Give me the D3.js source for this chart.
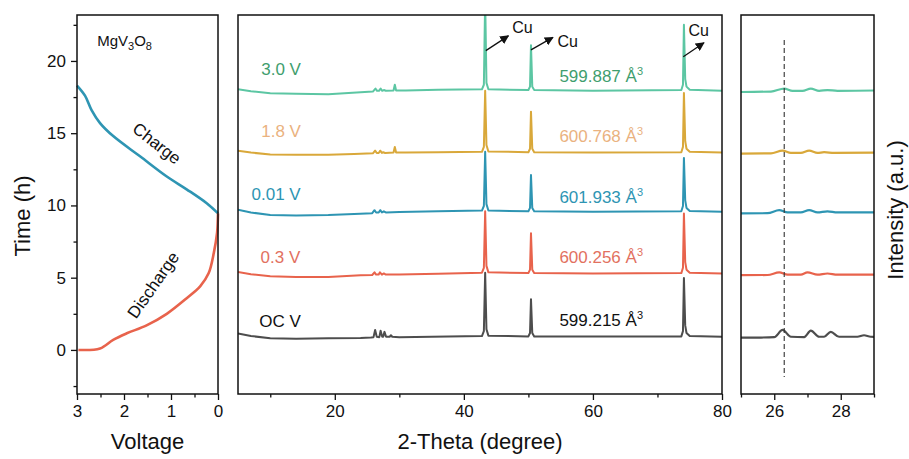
<!DOCTYPE html>
<html>
<head>
<meta charset="utf-8">
<script src="https://cdn.jsdelivr.net/npm/d3@7"></script>
<style>
  body { margin: 0; background: #fff; }
  svg { font-family: "Liberation Sans", Arial, sans-serif; }
</style>
</head>
<body>
<svg id="chart" width="909" height="459"></svg>
<script>
// ---- panel 1: voltage profile ----
var voltCharge = [3, 2.83, 2.69, 2.51, 2.23, 1.66, 1.09, 0.66, 0.24, 0];
var timeCharge = [18.3, 17.6, 16.6, 15.7, 14.8, 13.4, 12.0, 11.1, 10.15, 9.45];
var voltDischarge = [2.97, 2.51, 2.23, 1.94, 1.52, 1.09, 0.66, 0.38, 0.2, 0.09, 0.02, 0];
var timeDischarge = [0, 0.1, 0.7, 1.15, 1.7, 2.5, 3.6, 4.4, 5.3, 6.7, 8.1, 9.45];
var voltTicks = [3, 2, 1, 0];
var timeTicks = [0, 5, 10, 15, 20];

// ---- panel 2/3: XRD patterns (2-theta, intensity above the series offset) ----
var seriesNames = ["OC V", "0.3 V", "0.01 V", "1.8 V", "3.0 V"];
var seriesVolumes = ["599.215", "600.256", "601.933", "600.768", "599.887"];
var seriesOffsets = [15.1, 31.8, 48.1, 63.7, 80.1];
var lineColors = ["#4d4d4d", "#e8634c", "#2e95b3", "#d9a83a", "#5cc6a3"];
var textColors = ["#111111", "#e2715f", "#2e95b3", "#eab27f", "#3f9e6e"];

var xrdOCV = [[5,0.9],[7,0.2],[10,-0.4],[14,-0.5],[19,-0.4],[24,-0.3],[25.6,-0.2],[26.0,-0.1],[26.25,1.8],[26.5,0],[26.9,-0.1],[27.1,1.6],[27.35,0],[27.5,0],[27.7,1.3],[27.95,0],[28.5,0],[28.7,0.4],[28.9,0],[30,-0.1],[35,0],[42.8,0.2],[43.1,1.5],[43.3,16.9],[43.5,2],[43.8,0.3],[50.0,0.1],[50.25,1],[50.4,9.9],[50.6,1],[50.9,0.1],[55,0.1],[73.7,0.1],[73.95,1.5],[74.1,15.5],[74.3,3],[74.5,1],[75,0.2],[80,0]];
var xrd03 = [[5,0.4],[7,-0.2],[10,-0.7],[14,-0.9],[19,-0.9],[24,-0.5],[25.8,-0.4],[26.15,0.3],[26.4,-0.3],[26.8,-0.3],[27.0,0.3],[27.3,-0.3],[27.6,0],[27.9,-0.3],[30,-0.3],[36,-0.1],[42.8,0.2],[43.1,1.5],[43.3,16.4],[43.5,2],[43.8,0.3],[50.0,0.1],[50.25,1],[50.4,10.6],[50.6,1],[50.9,0.1],[60,0],[73.7,0.1],[73.95,1.5],[74.1,15.8],[74.3,3],[74.5,1],[75,0.2],[80,0]];
var xrd001 = [[5,0.5],[7,-0.2],[10,-0.9],[14,-1.0],[19,-0.9],[23,-0.6],[25.8,-0.4],[26.15,0.4],[26.4,-0.2],[26.8,-0.2],[27.05,0.4],[27.3,-0.2],[27.6,0.1],[27.9,-0.2],[30,-0.1],[36,0.1],[42.8,0.3],[43.1,1.5],[43.3,15.8],[43.5,2],[43.8,0.3],[50.0,0.1],[50.25,1],[50.4,9.7],[50.6,1],[50.9,0.1],[60,0],[73.7,0.1],[73.95,1.5],[74.1,14.2],[74.3,3],[74.5,1],[75,0.2],[80,0]];
var xrd18 = [[5,0.5],[7,0],[10,-0.5],[14,-0.6],[19,-0.6],[23,-0.4],[25.9,-0.2],[26.25,0.5],[26.5,-0.1],[26.8,-0.1],[27.05,0.5],[27.3,-0.1],[27.5,0.1],[27.8,-0.1],[29.1,0],[29.3,1.5],[29.5,0],[31,0],[36,0.1],[42.8,0.2],[43.1,1.5],[43.3,16.3],[43.5,2],[43.8,0.3],[50.0,0.1],[50.25,1],[50.4,10.8],[50.6,1],[50.9,0.1],[60,0],[73.7,0.1],[73.95,1.5],[74.1,15.7],[74.3,3],[74.5,1],[75,0.2],[80,0]];
var xrd30 = [[5,0.3],[7,-0.2],[10,-0.75],[14,-0.9],[19,-1.0],[24,-0.5],[25.9,-0.3],[26.3,0.5],[26.55,-0.1],[26.85,-0.1],[27.1,0.5],[27.35,-0.1],[27.6,0.1],[27.9,-0.1],[29.1,0],[29.3,1.5],[29.5,0],[31,0],[36,0.2],[42.8,0.3],[43.1,1.5],[43.3,24],[43.5,2],[43.8,0.3],[50.0,0.1],[50.25,1],[50.4,11.9],[50.6,1],[50.9,0.1],[60,-0.1],[73.7,0.1],[73.95,1.5],[74.1,17.3],[74.3,3],[74.5,1],[75,0.2],[80,-0.1]];
var xrdSeries = [xrdOCV, xrd03, xrd001, xrd18, xrd30];

var thetaTicks = [20, 40, 60, 80];
var thetaMinor = [10, 30, 50, 70];
var zoomTicks = [26, 28];
var zoomMinor = [25, 27, 29];

// Cu arrows: [from 2θ, from intensity, to 2θ, to intensity]
var cuArrows = [[43.4, 90.6, 46.9, 94.5], [50.4, 90.8, 53.8, 94.1], [74.0, 89.0, 77.2, 92.7]];
var cuLabels = [[47.5, 95.2], [54.5, 91.5], [74.8, 94.4]];
var refLine = 26.3;

var svg = d3.select("#chart");
var black = "#111";

function frame(g, w, h) {
    g.append("rect").attr("width", w).attr("height", h)
        .attr("fill", "none").attr("stroke", black).attr("stroke-width", 1.5);
}
function styleAxis(g) {
    g.select(".domain").remove();
    g.selectAll("line").attr("stroke", black).attr("stroke-width", 1.3);
    g.selectAll("text").attr("fill", black).style("font-size", "17px")
        .style("font-family", "'Liberation Sans', Arial, sans-serif");
}

// ================= panel 1 =================
var p1 = {left: 77, top: 15, width: 141, height: 379};
var g1 = svg.append("g").attr("transform", "translate(" + p1.left + "," + p1.top + ")");
var xV = d3.scaleLinear().domain([3, 0]).range([0, p1.width]);
var yT = d3.scaleLinear().domain([-3.05, 23.18]).range([p1.height, 0]);

var lineV = d3.line()
    .x(function(d) { return xV(d[0]); })
    .y(function(d) { return yT(d[1]); })
    .curve(d3.curveCatmullRom);

g1.append("path").datum(d3.zip(voltCharge, timeCharge))
    .attr("fill", "none").attr("stroke", "#2e95b3").attr("stroke-width", 2.6)
    .attr("d", lineV);
g1.append("path").datum(d3.zip(voltDischarge, timeDischarge))
    .attr("fill", "none").attr("stroke", "#e8634c").attr("stroke-width", 2.6)
    .attr("d", lineV);

g1.append("g").attr("transform", "translate(0," + p1.height + ")")
    .call(d3.axisBottom(xV).tickValues(voltTicks).tickFormat(d3.format("d")).tickSize(6).tickPadding(5))
    .call(styleAxis);
g1.append("g").attr("transform", "translate(0," + p1.height + ")")
    .call(d3.axisBottom(xV).tickValues([2.5, 1.5, 0.5]).tickFormat("").tickSize(3.5))
    .call(styleAxis);
g1.append("g")
    .call(d3.axisLeft(yT).tickValues(timeTicks).tickSize(6).tickPadding(5))
    .call(styleAxis);
g1.append("g")
    .call(d3.axisLeft(yT).tickValues([-2.5, 2.5, 7.5, 12.5, 17.5, 22.5]).tickFormat("").tickSize(3.5))
    .call(styleAxis);
frame(g1, p1.width, p1.height);

var mg = g1.append("text").attr("x", xV(2.57)).attr("y", yT(21.0))
    .attr("fill", black).style("font-size", "15px");
mg.append("tspan").text("MgV");
mg.append("tspan").attr("dy", 4).style("font-size", "11px").text("3");
mg.append("tspan").attr("dy", -4).text("O");
mg.append("tspan").attr("dy", 4).style("font-size", "11px").text("8");

g1.append("text")
    .attr("transform", "translate(" + xV(1.30) + "," + yT(14.3) + ") rotate(38)")
    .attr("text-anchor", "middle").attr("dy", "0.35em")
    .attr("fill", black).style("font-size", "17px").text("Charge");
g1.append("text")
    .attr("transform", "translate(" + xV(1.38) + "," + yT(4.5) + ") rotate(-55)")
    .attr("text-anchor", "middle").attr("dy", "0.35em")
    .attr("fill", black).style("font-size", "17px").text("Discharge");

svg.append("text")
    .attr("transform", "translate(30,216) rotate(-90)")
    .attr("text-anchor", "middle").attr("fill", black)
    .style("font-size", "22px").text("Time (h)");
svg.append("text").attr("x", p1.left + p1.width / 2).attr("y", 449)
    .attr("text-anchor", "middle").attr("fill", black)
    .style("font-size", "22px").text("Voltage");

// ================= panel 2 =================
var p2 = {left: 238, top: 15, width: 484, height: 379};
var g2 = svg.append("g").attr("transform", "translate(" + p2.left + "," + p2.top + ")");
var xT = d3.scaleLinear().domain([5, 80]).range([0, p2.width]);
var yI = d3.scaleLinear().domain([0, 100]).range([p2.height, 0]);

svg.append("defs").append("clipPath").attr("id", "clip2")
    .append("rect").attr("width", p2.width).attr("height", p2.height);

var plot2 = g2.append("g").attr("clip-path", "url(#clip2)");
xrdSeries.forEach(function(s, i) {
    var line = d3.line()
        .x(function(d) { return xT(d[0]); })
        .y(function(d) { return yI(d[1] + seriesOffsets[i]); });
    plot2.append("path").datum(s)
        .attr("fill", "none").attr("stroke", lineColors[i])
        .attr("stroke-width", 2).attr("stroke-linejoin", "round")
        .attr("d", line);
});

// series labels
var labelX = [8.3, 8.5, 7.1, 8.6, 8.6];
var labelGap = [2.6, 2.7, 3.0, 4.1, 4.2];
seriesNames.forEach(function(n, i) {
    g2.append("text").attr("x", xT(labelX[i]))
        .attr("y", yI(seriesOffsets[i] + labelGap[i]))
        .attr("fill", textColors[i]).style("font-size", "17px").text(n);
    var t = g2.append("text").attr("x", xT(54.8))
        .attr("y", yI(seriesOffsets[i] + [2.9, 2.7, 2.3, 2.8, 2.3][i]))
        .attr("fill", textColors[i]).style("font-size", "17px");
    t.append("tspan").text(seriesVolumes[i] + " Å");
    t.append("tspan").attr("dy", -7).style("font-size", "11px").text("3");
});

// Cu arrows
svg.select("defs").append("marker").attr("id", "arrow")
    .attr("viewBox", "0 0 10 10").attr("refX", 9).attr("refY", 5)
    .attr("markerWidth", 9).attr("markerHeight", 9).attr("orient", "auto")
    .attr("markerUnits", "userSpaceOnUse")
    .append("path").attr("d", "M0,0 L10,5 L0,10 z").attr("fill", black);
cuArrows.forEach(function(a) {
    g2.append("line")
        .attr("x1", xT(a[0])).attr("y1", yI(a[1]))
        .attr("x2", xT(a[2])).attr("y2", yI(a[3]))
        .attr("stroke", black).attr("stroke-width", 1.3)
        .attr("marker-end", "url(#arrow)");
});
cuLabels.forEach(function(c) {
    g2.append("text").attr("x", xT(c[0])).attr("y", yI(c[1]))
        .attr("fill", black).style("font-size", "16px").text("Cu");
});

g2.append("g").attr("transform", "translate(0," + p2.height + ")")
    .call(d3.axisBottom(xT).tickValues(thetaTicks).tickSize(6).tickPadding(5))
    .call(styleAxis);
g2.append("g").attr("transform", "translate(0," + p2.height + ")")
    .call(d3.axisBottom(xT).tickValues(thetaMinor).tickFormat("").tickSize(3.5))
    .call(styleAxis);
frame(g2, p2.width, p2.height);

svg.append("text").attr("x", p2.left + p2.width / 2).attr("y", 449)
    .attr("text-anchor", "middle").attr("fill", black)
    .style("font-size", "22px").text("2-Theta (degree)");

// ================= panel 3 =================
var p3 = {left: 741, top: 15, width: 133, height: 379};
var g3 = svg.append("g").attr("transform", "translate(" + p3.left + "," + p3.top + ")");
var xZ = d3.scaleLinear().domain([25, 29]).range([0, p3.width]);

svg.select("defs").append("clipPath").attr("id", "clip3")
    .append("rect").attr("width", p3.width).attr("height", p3.height);
var plot3 = g3.append("g").attr("clip-path", "url(#clip3)");
xrdSeries.forEach(function(s, i) {
    var line = d3.line()
        .x(function(d) { return xZ(d[0]); })
        .y(function(d) { return yI(d[1] + seriesOffsets[i]); })
        .curve(d3.curveMonotoneX);
    plot3.append("path").datum(s)
        .attr("fill", "none").attr("stroke", lineColors[i])
        .attr("stroke-width", 2.2).attr("stroke-linejoin", "round")
        .attr("d", line);
});
g3.append("line")
    .attr("x1", xZ(refLine)).attr("x2", xZ(refLine))
    .attr("y1", yI(93.4)).attr("y2", yI(4.5))
    .attr("stroke", "#333").attr("stroke-width", 1.1)
    .attr("stroke-dasharray", "5,3");

g3.append("g").attr("transform", "translate(0," + p3.height + ")")
    .call(d3.axisBottom(xZ).tickValues(zoomTicks).tickFormat(d3.format("d")).tickSize(6).tickPadding(5))
    .call(styleAxis);
g3.append("g").attr("transform", "translate(0," + p3.height + ")")
    .call(d3.axisBottom(xZ).tickValues(zoomMinor).tickFormat("").tickSize(3.5))
    .call(styleAxis);
frame(g3, p3.width, p3.height);

svg.append("text")
    .attr("transform", "translate(895,210) rotate(-90)")
    .attr("text-anchor", "middle").attr("dy", "0.35em").attr("fill", black)
    .style("font-size", "22px").text("Intensity (a.u.)");
</script>
</body>
</html>
